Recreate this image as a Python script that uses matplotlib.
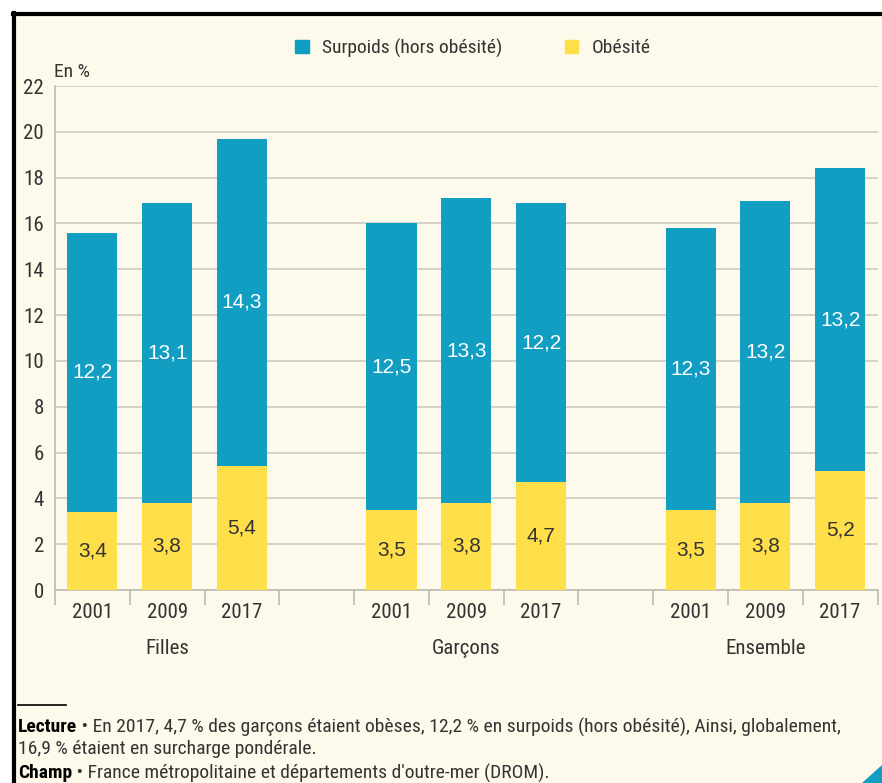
import matplotlib
matplotlib.use("Agg")
import matplotlib.pyplot as plt
from matplotlib.patches import Rectangle, Polygon
from matplotlib.lines import Line2D
from matplotlib import font_manager as fm

groups = ["Filles", "Garçons", "Ensemble"]
years = ["2001", "2009", "2017"]
obesite = [3.4, 3.8, 5.4, 3.5, 3.8, 4.7, 3.5, 3.8, 5.2]
surpoids = [12.2, 13.1, 14.3, 12.5, 13.3, 12.2, 12.3, 13.2, 13.2]
yticks = list(range(0, 23, 2))

BLUE = "#129dc2"
YELLOW = "#fedf4a"
BG = "#fdf9eb"
TXT = "#333333"


def find_font(bold=False):
    cands = []
    for f in fm.fontManager.ttflist:
        n = f.name.lower()
        fn = f.fname.lower()
        narrow = ("narrow" in n or "condensed" in n or "condensed" in fn
                  or "narrow" in fn or f.stretch in ("condensed", "semi-condensed", 600, 300))
        if not narrow:
            continue
        if "italic" in fn or "oblique" in fn or f.style != "normal":
            continue
        isbold = (f.weight in ("bold", 700) or "bold" in fn)
        if bold != isbold:
            continue
        if "semibold" in fn or "light" in fn or "thin" in fn or "medium" in fn or "black" in fn or "extra" in fn:
            continue
        if "mono" in n or "serif" in n and "sans" not in n:
            continue
        if "liberation" in n:
            score = 5
        elif "roboto" in n:
            score = 4
        elif "open" in n:
            score = 3
        elif "dejavu" in n:
            score = 2
        else:
            score = 1
        cands.append((score, f.fname))
    if cands:
        cands.sort(reverse=True)
        return fm.FontProperties(fname=cands[0][1])
    return fm.FontProperties(family="DejaVu Sans", stretch="condensed",
                             weight="bold" if bold else "normal")


NARROW = find_font(False)
NARROWB = find_font(True)
REG = fm.FontProperties(family=["Liberation Sans", "DejaVu Sans"])


def fp(base, size):
    p = base.copy()
    p.set_size(size)
    return p


fig = plt.figure(figsize=(8.82, 7.83), dpi=100, facecolor=BG)
W, H = 882, 783
ax = fig.add_axes([55 / W, 1 - 590 / H, (877.5 - 55) / W, (590 - 86) / H])
ax.set_facecolor(BG)

pos = []
for g in range(len(groups)):
    for k in range(len(years)):
        pos.append(g * 4 + k)

bw = 0.67
ax.bar(pos, obesite, width=bw, color=YELLOW, zorder=3, label="Obésité")
ax.bar(pos, surpoids, width=bw, bottom=obesite, color=BLUE, zorder=3,
       label="Surpoids (hors obésité)")

for x, o, s in zip(pos, obesite, surpoids):
    ax.text(x, o / 2, f"{o:.1f}".replace(".", ","), ha="center", va="center",
            fontproperties=fp(REG, 15), color=TXT, zorder=4)
    ax.text(x, o + s / 2, f"{s:.1f}".replace(".", ","), ha="center", va="center",
            fontproperties=fp(REG, 15), color="white", zorder=4)

ax.set_xlim(-0.5, 10.5)
ax.set_ylim(0, 22)
ax.set_yticks(yticks)
ax.set_yticklabels([str(t) for t in yticks], fontproperties=fp(NARROW, 15), color=TXT)
ax.yaxis.grid(True, color="#cfcbc2", linewidth=1.2, zorder=0)
ax.tick_params(axis="y", length=0, pad=8)

ax.set_xticks(pos)
ax.set_xticklabels(years * len(groups), fontproperties=fp(NARROW, 15), color=TXT)
ax.set_xticks([i - 0.5 for i in range(12)], minor=True)
ax.tick_params(axis="x", which="major", length=0, pad=9)
ax.tick_params(axis="x", which="minor", length=11, color="#bdbab2", width=1.2)

for sp in ["top", "right"]:
    ax.spines[sp].set_visible(False)
for sp in ["left", "bottom"]:
    ax.spines[sp].set_color("#bdbab2")
    ax.spines[sp].set_linewidth(1.2)

for g, name in enumerate(groups):
    ax.text(g * 4 + 1, -2.55, name, ha="center", va="center",
            fontproperties=fp(NARROW, 15), color=TXT, clip_on=False)

fig.text(54 / W, 1 - 72 / H, "En %", fontproperties=fp(NARROW, 14), color=TXT,
         ha="left", va="center")

handles = [Rectangle((0, 0), 1, 1, color=BLUE), Rectangle((0, 0), 1, 1, color=YELLOW)]
fig.legend(handles, ["Surpoids (hors obésité)", "Obésité"], loc="center",
           bbox_to_anchor=(473 / W, 1 - 48 / H), ncol=2, frameon=False,
           prop=fp(NARROW, 14), handlelength=0.7, handleheight=0.7,
           columnspacing=3.2, handletextpad=0.7, labelcolor=TXT)

# footnote
fig.add_artist(Line2D([18 / W, 66 / W], [1 - 705 / H, 1 - 705 / H], color="black",
                      linewidth=1.2, transform=fig.transFigure))
fig.canvas.draw()
r = fig.canvas.get_renderer()

FS = 14
line1 = " • En 2017, 4,7 % des garçons étaient obèses, 12,2 % en surpoids (hors obésité), Ainsi, globalement,"
for _ in range(10):
    ta = fig.text(0, 0, "Lecture", fontproperties=fp(NARROWB, FS))
    tb = fig.text(0, 0, line1, fontproperties=fp(NARROW, FS))
    wtot = ta.get_window_extent(r).width + tb.get_window_extent(r).width
    ta.remove()
    tb.remove()
    if wtot <= 828:
        break
    FS -= 0.5

t1 = fig.text(18 / W, 1 - 727 / H, "Lecture", fontproperties=fp(NARROWB, FS),
              color="black", ha="left", va="center")
bb = t1.get_window_extent(r)
fig.text(bb.x1 / W, 1 - 727 / H, line1, fontproperties=fp(NARROW, FS),
         color=TXT, ha="left", va="center")
fig.text(18 / W, 1 - 749 / H, "16,9 % étaient en surcharge pondérale.",
         fontproperties=fp(NARROW, FS), color=TXT, ha="left", va="center")
t2 = fig.text(18 / W, 1 - 773 / H, "Champ", fontproperties=fp(NARROWB, FS),
              color="black", ha="left", va="center")
bb2 = t2.get_window_extent(r)
fig.text(bb2.x1 / W, 1 - 773 / H,
         " • France métropolitaine et départements d'outre-mer (DROM).",
         fontproperties=fp(NARROW, FS), color=TXT, ha="left", va="center")

# frame
fig.add_artist(Rectangle((0, 1 - 13 / H), 1, 13 / H, color="white",
                         transform=fig.transFigure, zorder=-1))
fig.add_artist(Rectangle((0, 0), 12 / W, 1, color="white",
                         transform=fig.transFigure, zorder=-1))
fig.add_artist(Line2D([13 / W, 1.0], [1 - 14 / H, 1 - 14 / H], color="black",
                      linewidth=3, transform=fig.transFigure))
fig.add_artist(Line2D([14 / W, 14 / W], [0, 1 - 13 / H], color="black",
                      linewidth=3, transform=fig.transFigure))
fig.add_artist(Polygon([[862 / W, 0], [1, 0], [1, 18 / H]], closed=True, color=BLUE,
                       transform=fig.transFigure))

fig.savefig("out.png", dpi=100, facecolor=BG)
